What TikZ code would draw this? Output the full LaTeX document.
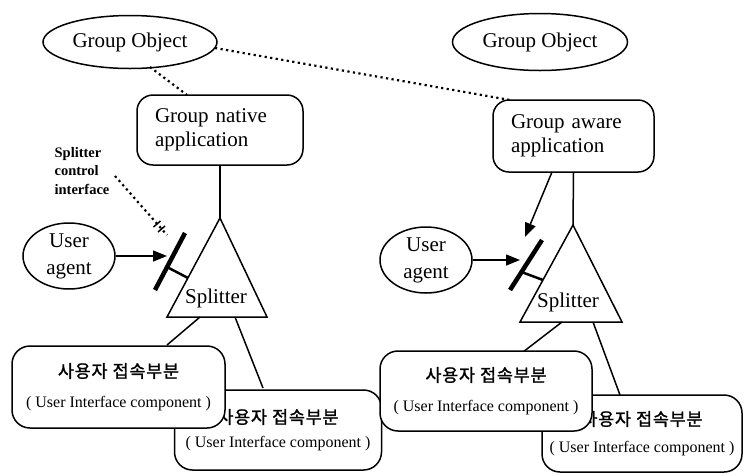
\documentclass[tikz,border=0pt]{standalone}
\usepackage{fontspec}
\setmainfont{Liberation Serif}
\newfontfamily\krfont[FakeBold=1.2,LetterSpace=4]{Noto Sans CJK KR}
\usetikzlibrary{arrows.meta,shapes.geometric}
\begin{document}
\begin{tikzpicture}[x=1pt,y=-1pt,line width=1.5pt,
  obj/.style={draw,ellipse,inner sep=0pt,align=center,font=\fontsize{21}{27}\selectfont},
  app/.style={draw,rounded corners=16pt,align=left,inner xsep=18pt,inner ysep=0pt,
    font=\fontsize{21}{24}\selectfont},
  uic/.style={draw,fill=white,rounded corners=18pt,align=center,inner sep=0pt,
    font=\fontsize{16}{#1}\selectfont},
  dotlink/.style={line width=2.2pt,dash pattern=on 2.2pt off 3.4pt},
  bar/.style={line width=4.5pt},
  arr/.style={-{Triangle[length=14pt,width=11pt]}},
  lbl/.style={font=\fontsize{21}{24}\selectfont,inner sep=0pt,anchor=base},
]
\useasboundingbox (0,0) rectangle (745,475);

% group objects
\node[obj,minimum width=174pt,minimum height=53pt] (go1) at (130,42) {Group Object};
\node[obj,minimum width=175pt,minimum height=57pt] (go2) at (540,42) {Group Object};

% applications
\node[app,minimum height=70pt,text width=130pt] (nat) at (220,130) {Group native\\application};
\node[app,minimum height=72pt,text width=125pt] (awa) at (573.5,136) {Group aware\\application};

% dotted links from the group object
\coordinate (g1a) at (150,67);
\coordinate (g1b) at (215,48);
\coordinate (natTop) at (187,95);
\coordinate (awaTop) at (510,100);
\draw[dotlink] (g1a) -- (natTop);
\draw[dotlink] (g1b) -- (awaTop);

% splitters
\coordinate (t1a) at (220,218);
\coordinate (t1l) at (167,317);
\coordinate (t1r) at (267,317);
\draw (t1a) -- (t1l) -- (t1r) -- cycle;
\node[lbl] (sp1) at (216,303) {Splitter};

\coordinate (t2a) at (573,225);
\coordinate (t2l) at (520,322);
\coordinate (t2r) at (622,322);
\draw (t2a) -- (t2l) -- (t2r) -- cycle;
\node[lbl] (sp2) at (568,307) {Splitter};

\draw (nat.south) -- (t1a);
\draw (awa.south) -- (t2a);

% control interfaces (bar + stem)
\coordinate (b1s) at (155,290);
\coordinate (b1e) at (185,233);
\coordinate (b1m) at (167,267);
\coordinate (b1t) at (188,278);
\draw[bar] (b1s) -- (b1e);
\draw[line width=2.5pt] (b1m) -- (b1t);

\coordinate (b2s) at (510,290);
\coordinate (b2e) at (542,240);
\coordinate (b2m) at (521.5,272);
\coordinate (b2t) at (543,280);
\draw[bar] (b2s) -- (b2e);
\draw[line width=2.5pt] (b2m) -- (b2t);

% user agents
\node[obj,minimum width=92pt,minimum height=66pt] (ua1) at (69,256) {User\\agent};
\node[obj,minimum width=92pt,minimum height=66pt] (ua2) at (426,260) {User\\agent};
\coordinate (a1) at (167,256);
\coordinate (a2) at (520,260);
\draw[arr] (ua1.east) -- (a1);
\draw[arr] (ua2.east) -- (a2);

% aware application drives its splitter interface
\coordinate (aw1) at (552,172);
\coordinate (aw2) at (525,237);
\draw[arr] (aw1) -- (aw2);

% splitter control interface label
\node[align=left,inner sep=0pt,font=\bfseries\fontsize{14.5}{18.5}\selectfont] (ctl) at (82,171)
  {Splitter\\control\\interface};
\coordinate (c1) at (115,176);
\coordinate (c2) at (167,235);
\draw[dotlink] (c1) -- (c2);
\coordinate (k1a) at (153.5,227);
\coordinate (k1b) at (160.5,221);
\coordinate (k2a) at (158,232);
\coordinate (k2b) at (165,226);
\draw[line width=1.5pt] (k1a) -- (k1b);
\draw[line width=1.5pt] (k2a) -- (k2b);

% legs to the interface components
\coordinate (l1a) at (200,317);
\coordinate (l1b) at (167,345);
\coordinate (l2a) at (235,317);
\coordinate (l2b) at (263,388);
\coordinate (l3a) at (562,322);
\coordinate (l3b) at (523,352);
\coordinate (l4a) at (593,322);
\coordinate (l4b) at (620,395);
\draw (l1a) -- (l1b);
\draw (l2a) -- (l2b);
\draw (l3a) -- (l3b);
\draw (l4a) -- (l4b);

% user interface components
\newcommand\krline{{\krfont\fontsize{17.5}{17.5}\selectfont 사용자\hspace{5pt}접속부분}}
\node[uic=24,minimum width=207pt,minimum height=80pt] (uic2) at (278,430)
  {\krline\\{( User Interface component )}};
\node[uic=30,minimum width=213pt,minimum height=82pt] (uic1) at (118.5,387)
  {\krline\\{( User Interface component )}};
\node[uic=27,minimum width=200pt,minimum height=77pt] (uic4) at (642,433.5)
  {\krline\\{( User Interface component )}};
\node[uic=30,minimum width=212pt,minimum height=80pt] (uic3) at (486,391)
  {\krline\\{( User Interface component )}};
\end{tikzpicture}
\end{document}
